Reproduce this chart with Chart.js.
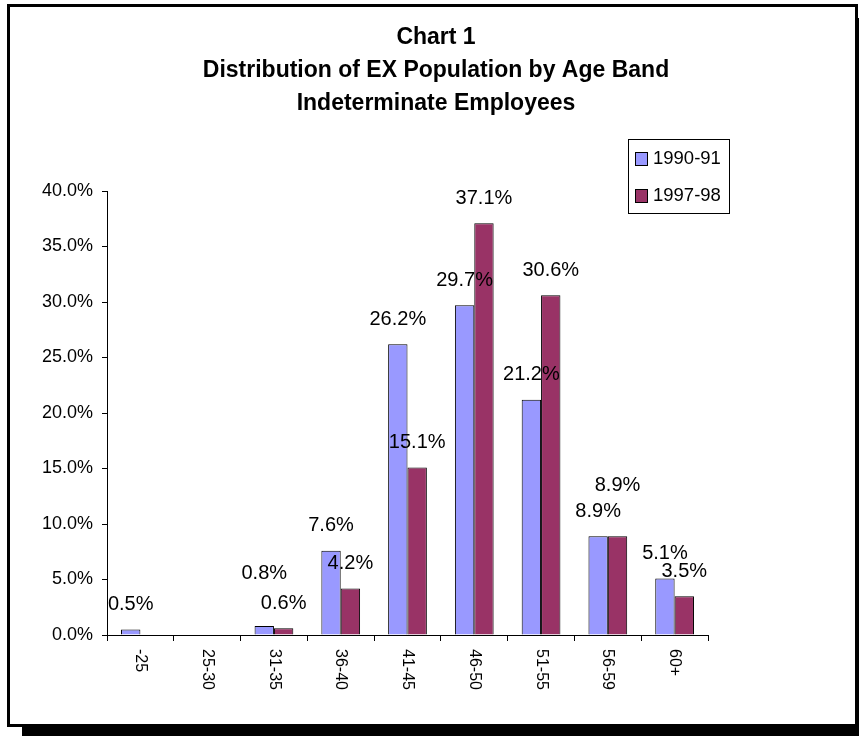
<!DOCTYPE html>
<html>
<head>
<meta charset="utf-8">
<script src="https://cdn.jsdelivr.net/npm/chart.js@4"></script>
<style>
  body { margin: 0; background: #fff; }
  #wrap { position: relative; width: 859px; height: 736px; }
</style>
</head>
<body>
<div id="wrap"><canvas id="myChart"></canvas></div>
<script>
  const ageBands = ['-25', '25-30', '31-35', '36-40', '41-45', '46-50', '51-55', '56-59', '60+']
  const pct9091 = [0.5, 0, 0.8, 7.6, 26.2, 29.7, 21.2, 8.9, 5.1]
  const pct9798 = [0, 0, 0.6, 4.2, 15.1, 37.1, 30.6, 8.9, 3.5]
  const titleLines = ['Chart 1', 'Distribution of EX Population by Age Band', 'Indeterminate Employees']

  const FONT = "'Liberation Sans', Arial, sans-serif"

  // frame with drop shadow, title, legend box, rotated category labels, value labels
  const decor = {
    id: 'decor',
    beforeDraw(chart) {
      const c = chart.ctx
      c.save()
      c.fillStyle = '#fff'
      c.fillRect(0, 0, chart.width, chart.height)
      c.fillStyle = '#000'
      c.fillRect(22, 726, chart.width, 20)
      c.fillRect(856, 18, 10, chart.height)
      c.strokeStyle = '#000'
      c.lineWidth = 3
      c.strokeRect(8.5, 5.5, 848, 720)
      c.restore()
    },
    afterDatasetsDraw(chart) {
      const c = chart.ctx
      c.save()
      c.font = '20px ' + FONT
      c.fillStyle = '#000'
      c.textAlign = 'center'
      c.textBaseline = 'middle'
      const a = chart.getDatasetMeta(0).data
      const b = chart.getDatasetMeta(1).data
      ageBands.forEach((lab, i) => {
        const la = { v: pct9091[i], x: a[i].x, y: a[i].y - 25, w: 0 }
        const lb = { v: pct9798[i], x: b[i].x, y: b[i].y - 25, w: 0 }
        ;[la, lb].forEach(l => { l.txt = l.v.toFixed(1) + '%'; l.w = c.measureText(l.txt).width })
        // push the label of the taller bar up when the pair would collide
        if (la.v > 0 && lb.v > 0 && Math.abs(la.x - lb.x) < (la.w + lb.w) / 2 && Math.abs(la.y - lb.y) < 12) {
          if (la.v > lb.v) la.y = lb.y - 30
          else lb.y = la.y - 26
        }
        ;[la, lb].forEach(l => { if (l.v > 0) c.fillText(l.txt, l.x, l.y) })
      })
      c.restore()
    },
    afterDraw(chart) {
      const c = chart.ctx
      c.save()
      c.fillStyle = '#000'
      // title
      c.font = 'bold 23px ' + FONT
      c.textAlign = 'center'
      c.textBaseline = 'middle'
      titleLines.forEach((t, i) => c.fillText(t, 436, 38 + i * 33))
      // x labels, turned clockwise
      const xs = chart.scales.x
      c.font = '16px ' + FONT
      c.textAlign = 'left'
      ageBands.forEach((lab, i) => {
        c.save()
        c.translate(xs.getPixelForValue(i), 649)
        c.rotate(Math.PI / 2)
        c.fillText(lab, 0, 0)
        c.restore()
      })
      // legend
      c.strokeStyle = '#000'
      c.lineWidth = 1
      c.strokeRect(628.5, 139.5, 101, 74)
      c.font = '18.5px ' + FONT
      chart.data.datasets.forEach((ds, i) => {
        const y = 159 + i * 37
        c.fillStyle = ds.backgroundColor
        c.fillRect(635.5, y - 6.5, 12, 13)
        c.strokeRect(635.5, y - 6.5, 12, 13)
        c.fillStyle = '#000'
        c.fillText(ds.label, 653, y)
      })
      c.restore()
    }
  }

  new Chart(document.getElementById('myChart'), {
    type: 'bar',
    data: {
      labels: ageBands,
      datasets: [
        {
          label: '1990-91',
          data: pct9091,
          backgroundColor: '#9999FF',
          borderColor: '#000',
          borderWidth: 1
        },
        {
          label: '1997-98',
          data: pct9798,
          backgroundColor: '#993366',
          borderColor: '#000',
          borderWidth: 1
        }
      ]
    },
    options: {
      responsive: true,
      maintainAspectRatio: false,
      animation: false,
      layout: { padding: { left: 7, right: 151, top: 191, bottom: 6 } },
      datasets: { bar: { barPercentage: 1, categoryPercentage: 0.58 } },
      plugins: {
        legend: { display: false },
        title: { display: false },
        tooltip: { enabled: false }
      },
      scales: {
        x: {
          ticks: { display: false },
          grid: { offset: true, drawOnChartArea: false, tickLength: 6, color: '#000' },
          border: { color: '#000' },
          afterFit(s) { s.height = 95 }
        },
        y: {
          min: 0,
          max: 40,
          ticks: {
            stepSize: 5,
            padding: 9,
            color: '#000',
            font: { family: FONT, size: 18 },
            callback: v => v.toFixed(1) + '%'
          },
          grid: { drawOnChartArea: false, tickLength: 5, color: '#000' },
          border: { color: '#000' },
          afterFit(s) { s.width = 100 }
        }
      }
    },
    plugins: [decor]
  })
</script>
</body>
</html>
